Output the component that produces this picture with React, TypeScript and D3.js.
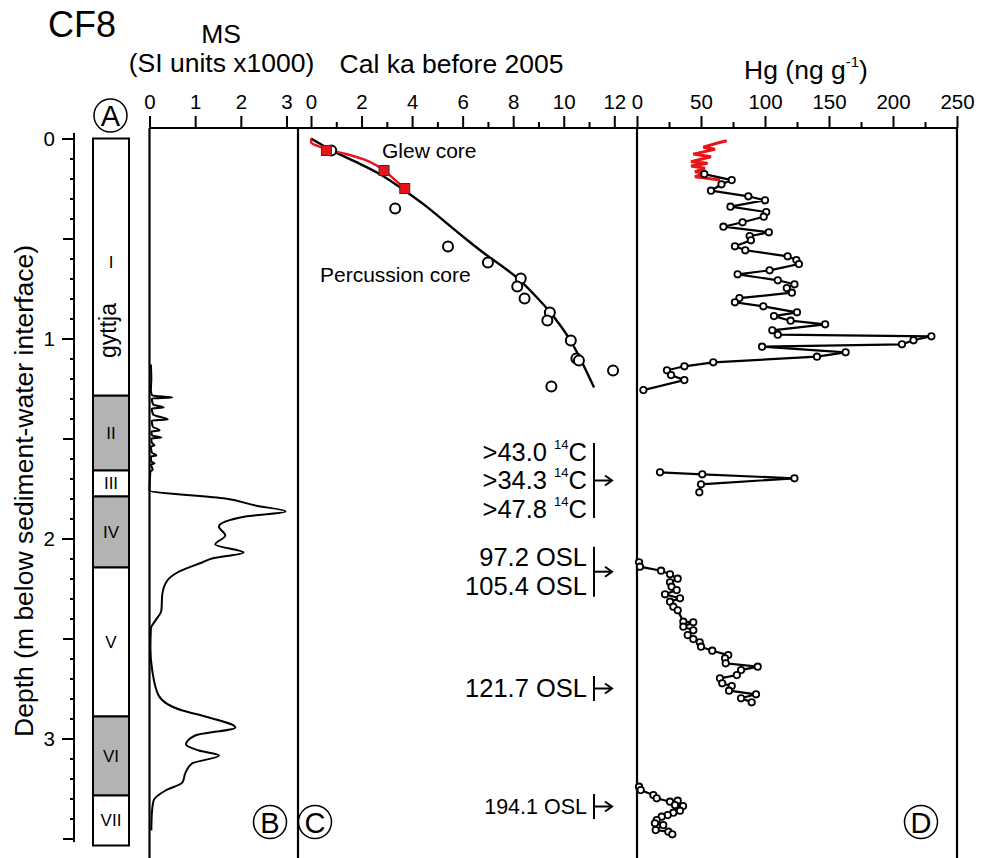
import React, { useRef, useEffect } from 'react'
import * as d3 from 'd3'

const FONT = "'Liberation Sans', Arial, Helvetica, sans-serif"
const TOP = 128
const BOTTOM = 858
const AXIS_X = 74

// tick values
const depthTicks = [0, 1, 2, 3]
const depthHalfTicks = [0.5, 1.5, 2.5, 3.5]
const msTicks = [0, 1, 2, 3]
const ageTicks = [0, 2, 4, 6, 8, 10, 12]
const ageMinorTicks = [1, 3, 5, 7, 9, 11]
const hgTicks = [0, 50, 100, 150, 200, 250]
const hgMinorTicks = [25, 75, 125, 175, 225]

// lithology (m)
const unitNames = ['I', 'II', 'III', 'IV', 'V', 'VI', 'VII']
const unitTops = [0, 1.286, 1.66, 1.79, 2.145, 2.89, 3.285]
const unitBases = [1.286, 1.66, 1.79, 2.145, 2.89, 3.285, 3.535]
const unitGrey = [false, true, false, true, false, true, false]

// magnetic susceptibility (SI x1000)
const msDepth = [
  1.13, 1.2, 1.26, 1.285, 1.295, 1.3, 1.33, 1.345, 1.35, 1.38, 1.405, 1.41, 1.44, 1.46, 1.465,
  1.485, 1.495, 1.5, 1.52, 1.535, 1.54, 1.57, 1.585, 1.59, 1.615, 1.625, 1.63, 1.655, 1.665,
  1.7, 1.76, 1.8, 1.835, 1.865, 1.89, 1.94, 1.985, 2.03, 2.07, 2.1, 2.12, 2.17, 2.21, 2.28,
  2.36, 2.41, 2.45, 2.55, 2.66, 2.785, 2.86, 2.89, 2.945, 2.985, 3.03, 3.06, 3.085, 3.125,
  3.17, 3.22, 3.26, 3.31, 3.38, 3.46,
]
const msValue = [
  0.03, 0.04, 0.03, 0.06, 0.5, 0.05, 0.08, 0.31, 0.05, 0.08, 0.4, 0.05, 0.07, 0.22, 0.04,
  0.06, 0.26, 0.04, 0.05, 0.11, 0.03, 0.05, 0.15, 0.03, 0.04, 0.11, 0.03, 0.07, 0.02,
  0.01, 0.0, 1.66, 2.32, 2.98, 2.1, 1.52, 1.66, 1.44, 2.06, 1.37, 1.15, 0.61, 0.39, 0.28,
  0.26, 0.13, 0.03, 0.02, 0.06, 0.2, 0.72, 1.22, 1.88, 1.0, 0.8, 1.08, 1.52, 0.93,
  0.79, 0.72, 0.35, 0.09, 0.05, 0.04,
]

// age-depth: percussion core dates
const percAge = [0.8, 3.33, 5.42, 7.0, 8.3, 8.16, 8.45, 9.45, 9.35, 10.28, 10.5, 10.6, 11.95, 9.51]
const percDepth = [0.06, 0.35, 0.54, 0.62, 0.7, 0.74, 0.8, 0.87, 0.91, 1.01, 1.1, 1.11, 1.16, 1.24]
// Glew core dates
const glewAge = [0.61, 2.89, 3.71]
const glewDepth = [0.06, 0.16, 0.25]
const glewLineAge = [0, 0.01, 0.41, 0.8, 1.46, 2.12, 2.58, 2.89, 3.31, 3.71]
const glewLineDepth = [0, 0.02, 0.044, 0.06, 0.08, 0.106, 0.134, 0.16, 0.206, 0.25]
// age model
const modelAge = [0, 0.8, 2.0, 2.8, 3.7, 4.6, 5.42, 6.2, 7.0, 7.7, 8.3, 8.9, 9.45, 9.9, 10.28, 10.7, 11.2]
const modelDepth = [0, 0.06, 0.13, 0.18, 0.26, 0.34, 0.43, 0.51, 0.59, 0.65, 0.71, 0.79, 0.864, 0.94, 1.01, 1.11, 1.245]

// Hg (ng/g), percussion core, four sections
const hgDepthA = [
  0.178, 0.208, 0.229, 0.261, 0.289, 0.309, 0.341, 0.368, 0.391, 0.419, 0.441, 0.469, 0.488,
  0.509, 0.539, 0.559, 0.589, 0.608, 0.628, 0.659, 0.679, 0.709, 0.729, 0.748, 0.771, 0.798,
  0.819, 0.839, 0.869, 0.888, 0.911, 0.929, 0.959, 0.981, 0.989, 1.009, 1.029, 1.041, 1.069,
  1.091, 1.119, 1.139, 1.159, 1.183, 1.208, 1.258,
]
const hgValueA = [
  52.6, 74, 66, 57.8, 87, 100, 73, 101, 99, 82.5, 67.5, 103, 88,
  89, 76.5, 84.6, 117.7, 124.5, 126.5, 103.6, 78.6, 110, 123, 117, 121, 80,
  76.5, 98.7, 125, 107, 120, 147, 105.7, 110, 230, 216, 207, 97.7, 163,
  140.6, 59.6, 37, 23.4, 26.6, 37, 5,
]
const hgDepthB = [1.669, 1.679, 1.699, 1.729, 1.769]
const hgValueB = [18, 51, 123, 50, 48.7]
const hgDepthC = [
  2.119, 2.141, 2.161, 2.179, 2.201, 2.219, 2.241, 2.258, 2.279, 2.299, 2.316, 2.341, 2.359,
  2.416, 2.419, 2.441, 2.459, 2.483, 2.503, 2.519, 2.541, 2.561, 2.583, 2.599, 2.624, 2.641,
  2.658, 2.683, 2.699, 2.724, 2.738, 2.761, 2.779, 2.799, 2.819,
]
const hgValueC = [
  1.6, 2.3, 18.8, 25.8, 31.8, 25.8, 27, 31, 21.9, 33.6, 25.8, 28.4, 31.8,
  36.2, 44, 36.2, 44, 39.6, 44, 49, 50, 58.8, 71.3, 68.8, 69.3, 94.3,
  81.3, 78, 64.8, 66.6, 74, 71.9, 93, 81.3, 89.6,
]
const hgDepthD = [
  3.241, 3.258, 3.283, 3.299, 3.316, 3.311, 3.333, 3.338, 3.361, 3.371, 3.383, 3.391, 3.408,
  3.424, 3.433, 3.458, 3.466, 3.479,
]
const hgValueD = [
  1.6, 2.9, 12.8, 15.4, 25.8, 31.8, 29.7, 36, 33.6, 28.4, 24, 19.3, 15.4,
  14, 20.5, 14.6, 24.5, 27.6,
]
// Hg, Glew core
const glewHgDepth = [0.011, 0.024, 0.044, 0.054, 0.078, 0.091, 0.116, 0.124, 0.138, 0.149, 0.166, 0.174, 0.191, 0.2075]
const glewHgValue = [70.1, 62.2, 51.8, 60.9, 44, 57.8, 42.2, 55.2, 42.2, 53.1, 45.3, 53.1, 45.3, 64.8]

// older dates
const datingLabels = [['>43.0', '>34.3', '>47.8'], ['97.2 OSL', '105.4 OSL'], ['121.7 OSL'], ['194.1 OSL']]
const datingDepths = [1.71, 2.166, 2.75, 3.34]
const datingC14 = [true, false, false, false]

const y = d3.scaleLinear().domain([0, 3.5]).range([138.5, 838.5])
const xMS = d3.scaleLinear().domain([0, 3]).range([149.5, 286.5])
const xAge = d3.scaleLinear().domain([0, 12]).range([311, 614.3])
const xHg = d3.scaleLinear().domain([0, 250]).range([637, 957])

const pairs = (xs: number[], ds: number[]) => ds.map((d, i) => [xs[i], d] as [number, number])

const Circled = ({ cx, cy, label }: { cx: number; cy: number; label: string }) => (
  <g>
    <circle cx={cx} cy={cy} r={16.5} fill="white" stroke="black" strokeWidth={1.5} />
    <text x={cx} y={cy + 10.5} textAnchor="middle" fontSize={29} fontFamily={FONT}>
      {label}
    </text>
  </g>
)

export default function App() {
  const axRef = useRef<SVGGElement>(null)

  useEffect(() => {
    const g = d3.select(axRef.current)
    g.selectAll('*').remove()

    const topAxis = (scale: d3.ScaleLinear<number, number>, major: number[], minor: number[]) => {
      if (minor.length)
        g.append('g')
          .attr('transform', `translate(0,${TOP})`)
          .call(d3.axisTop(scale).tickValues(minor).tickSize(6).tickFormat(() => ''))
      g.append('g')
        .attr('transform', `translate(0,${TOP})`)
        .call(d3.axisTop(scale).tickValues(major).tickSize(12).tickPadding(7).tickFormat(d3.format('d')))
    }
    topAxis(xMS, msTicks, [])
    topAxis(xAge, ageTicks, ageMinorTicks)
    topAxis(xHg, hgTicks, hgMinorTicks)

    const left = g.append('g').attr('transform', `translate(${AXIS_X},0)`)
    left.append('g').call(d3.axisLeft(y).tickValues(y.ticks(35)).tickSize(4).tickFormat(() => ''))
    left.append('g').call(d3.axisLeft(y).tickValues(depthHalfTicks).tickSize(11).tickFormat(() => ''))
    left.append('g').call(d3.axisLeft(y).tickValues(depthTicks).tickSize(12).tickPadding(7).tickFormat(d3.format('d')))

    g.selectAll('.domain').remove()
    g.selectAll('.tick line').attr('stroke-width', 2)
    g.selectAll('.tick text').attr('font-size', 20.5).attr('font-family', FONT).attr('fill', 'black')
  }, [])

  const msLine = d3.line<[number, number]>().x((d) => xMS(d[0])).y((d) => y(d[1])).curve(d3.curveMonotoneY)
  const ageLine = d3.line<[number, number]>().x((d) => xAge(d[0])).y((d) => y(d[1])).curve(d3.curveMonotoneY)
  const modelLine = d3.line<[number, number]>().x((d) => xAge(d[0])).y((d) => y(d[1])).curve(d3.curveBasis)
  const hgLine = d3.line<[number, number]>().x((d) => xHg(d[0])).y((d) => y(d[1]))

  const hgSections = [
    pairs(hgValueA, hgDepthA),
    pairs(hgValueB, hgDepthB),
    pairs(hgValueC, hgDepthC),
    pairs(hgValueD, hgDepthD),
  ]

  return (
    <svg width={981} height={858} style={{ position: 'absolute', left: 0, top: 0, background: 'white' }}>
      <rect width={981} height={858} fill="white" />

      {/* titles */}
      <text x={48} y={37} fontSize={36} fontFamily={FONT}>CF8</text>
      <text x={221} y={43} fontSize={26.5} fontFamily={FONT} textAnchor="middle">MS</text>
      <text x={221.5} y={72} fontSize={26.5} fontFamily={FONT} textAnchor="middle">(SI units x1000)</text>
      <text x={451.5} y={73} fontSize={26.5} fontFamily={FONT} textAnchor="middle">Cal ka before 2005</text>
      <text x={806} y={79} fontSize={26.5} fontFamily={FONT} textAnchor="middle">
        Hg (ng g<tspan fontSize={15} dy={-12}>-1</tspan><tspan dy={12}>)</tspan>
      </text>
      <text
        transform={`translate(33,491) rotate(-90)`}
        fontSize={26.5}
        fontFamily={FONT}
        textAnchor="middle"
      >
        Depth (m below sediment-water interface)
      </text>

      {/* frame */}
      <line x1={AXIS_X} x2={AXIS_X} y1={133} y2={842} stroke="black" strokeWidth={2} />
      <line x1={149.5} x2={957} y1={TOP} y2={TOP} stroke="black" strokeWidth={2.2} />
      {[149.5, 298, 637, 957].map((x) => (
        <line key={x} x1={x} x2={x} y1={TOP} y2={BOTTOM} stroke="black" strokeWidth={2.2} />
      ))}
      <g ref={axRef} />

      {/* lithology */}
      {unitNames.map((n, i) => (
        <g key={n}>
          <rect
            x={93}
            width={36}
            y={y(unitTops[i])}
            height={y(unitBases[i]) - y(unitTops[i])}
            fill={unitGrey[i] ? '#b3b3b3' : 'white'}
            stroke="black"
            strokeWidth={2}
          />
          <text
            x={111}
            y={n === 'I' ? y(0.62) : (y(unitTops[i]) + y(unitBases[i])) / 2}
            dy="0.35em"
            fontSize={17}
            fontFamily={FONT}
            textAnchor="middle"
          >
            {n}
          </text>
        </g>
      ))}
      <text transform={`translate(116,${y(0.96)}) rotate(-90)`} fontSize={23} fontFamily={FONT} textAnchor="middle">
        gyttja
      </text>
      <Circled cx={110.5} cy={115.5} label="A" />

      {/* MS */}
      <path d={msLine(pairs(msValue, msDepth)) ?? ''} fill="none" stroke="black" strokeWidth={2} />
      <Circled cx={270} cy={822} label="B" />

      {/* age-depth */}
      <path d={modelLine(pairs(modelAge, modelDepth)) ?? ''} fill="none" stroke="black" strokeWidth={2.4} />
      <path d={ageLine(pairs(glewLineAge, glewLineDepth)) ?? ''} fill="none" stroke="#e8141a" strokeWidth={2.4} />
      {percAge.map((a, i) => (
        <circle key={i} cx={xAge(a)} cy={y(percDepth[i])} r={5} fill="white" stroke="black" strokeWidth={2} />
      ))}
      {glewAge.map((a, i) => (
        <rect key={i} x={xAge(a) - 5} y={y(glewDepth[i]) - 5} width={10} height={10} fill="#e8141a" stroke="#333" strokeWidth={1} />
      ))}
      <text x={382} y={158} fontSize={21} fontFamily={FONT}>Glew core</text>
      <text x={320} y={282} fontSize={21} fontFamily={FONT}>Percussion core</text>

      {datingLabels.map((rows, gi) => {
        const ay = y(datingDepths[gi])
        const fs = gi === 3 ? 21.5 : 25.5
        const step = 28.5
        const half = rows.length * 12.5
        return (
          <g key={gi}>
            {rows.map((r, ri) => (
              <text
                key={ri}
                x={587}
                y={ay + (ri - (rows.length - 1) / 2) * step + fs * 0.35}
                fontSize={fs}
                fontFamily={FONT}
                textAnchor="end"
              >
                {datingC14[gi] ? (
                  <>
                    {r + ' '}
                    <tspan fontSize={13} dy={-12}>14</tspan>
                    <tspan dy={12}>C</tspan>
                  </>
                ) : (
                  r
                )}
              </text>
            ))}
            <line x1={594} x2={594} y1={ay - half} y2={ay + half} stroke="black" strokeWidth={2} />
            <line x1={594} x2={612} y1={ay} y2={ay} stroke="black" strokeWidth={2} />
            <path d={`M${605},${ay - 5}L${612},${ay}L${605},${ay + 5}`} fill="none" stroke="black" strokeWidth={2} />
          </g>
        )
      })}
      <Circled cx={315} cy={822} label="C" />

      {/* Hg */}
      <path d={hgLine(pairs(glewHgValue, glewHgDepth)) ?? ''} fill="none" stroke="#e8141a" strokeWidth={3} />
      {hgSections.map((s, si) => (
        <g key={si}>
          <path d={hgLine(s) ?? ''} fill="none" stroke="black" strokeWidth={2.2} />
          {s.map((p, i) => (
            <circle key={i} cx={xHg(p[0])} cy={y(p[1])} r={3.2} fill="white" stroke="black" strokeWidth={1.8} />
          ))}
        </g>
      ))}
      <Circled cx={921} cy={822} label="D" />
    </svg>
  )
}
